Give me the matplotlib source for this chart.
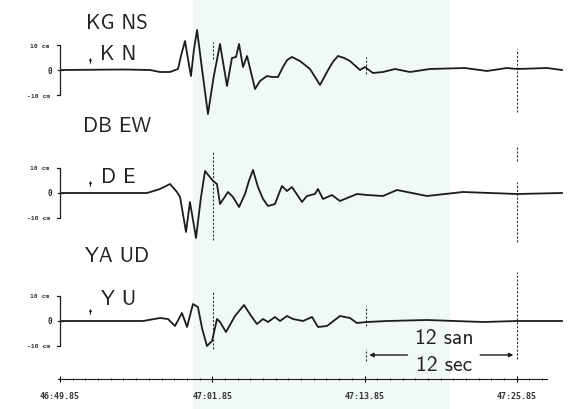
import matplotlib.pyplot as plt
from matplotlib.ticker import FixedLocator

# time in seconds after 46:49.85, amplitude in cm
kg_t = [0.16, 5.0, 7.09, 7.88, 8.67, 9.30, 9.55, 9.85, 10.1, 10.32, 10.55, 10.80, 11.2,
        11.66, 12.1, 12.61, 13.16, 13.55, 13.87, 14.11, 14.42, 14.74, 15.37, 15.76,
        16.31, 16.71, 17.18, 17.57, 17.9, 18.28, 18.91, 19.70, 20.1, 20.49, 21.04, 21.5,
        21.91, 22.4, 22.85, 23.64, 24.03, 24.66, 25.45, 26.40, 27.58, 29.16, 31.91,
        33.65, 35.22, 36.01, 38.38, 39.56]
kg_a = [0, 0.2, 0, -0.8, -0.8, 0.4, 6.0, 11.6, 4.0, -2.4, 8.0, 16.0, 0.0,
        -17.6, -3.0, 10.4, -6.4, 4.8, 5.2, 10.4, 1.2, 5.6, -7.6, -4.4,
        -2.4, -2.8, -2.8, 1.2, 4.0, 5.2, 3.6, 0.4, -2.8, -6.0, -0.8, 3.2,
        5.6, 4.8, 3.6, 0, 1.2, -1.2, -0.8, 0.4, -0.8, 0.4, 0.8,
        -0.4, 0.8, 0.4, 0.8, 0]

db_t = [0.16, 6.86, 7.88, 8.67, 9.20, 9.46, 9.93, 10.24, 10.72, 11.1, 11.43, 12.06,
        12.37, 12.61, 13.24, 13.63, 14.11, 14.58, 14.9, 15.21, 15.60, 16.0, 16.39,
        16.94, 17.49, 17.89, 18.28, 19.07, 19.46, 20.09, 20.33, 20.72, 21.43, 22.06,
        23.40, 24.19, 25.45, 26.56, 28.92, 31.76, 36.01, 39.56]
db_a = [0, 0, 1.6, 3.6, 0.5, -1.6, -15.6, -3.6, -18.0, -2.0, 8.8, 4.8,
        3.6, -4.4, 0.4, -1.6, -5.6, -0.4, 5.0, 9.2, 2.4, -2.4, -5.2,
        -4.4, 2.8, 0.8, 2.4, -3.6, -1.2, -0.4, 1.6, -2.4, -0.8, -3.2,
        -0.4, -0.8, -1.2, 1.2, -1.2, 0.4, -0.4, 0]

ya_t = [0.16, 6.54, 7.88, 8.51, 9.06, 9.61, 10.01, 10.48, 10.87, 11.2, 11.58, 11.98,
        12.37, 12.61, 13.08, 13.79, 14.50, 15.0, 15.52, 16.00, 16.39, 16.94, 17.34,
        17.89, 18.36, 19.15, 19.86, 20.33, 21.04, 22.06, 22.85, 23.40, 24.19, 25.77,
        28.92, 33.33, 36.01, 39.56]
ya_a = [0, 0, 1.2, 0.8, -2.0, 3.2, -2.4, 6.8, 5.6, -3.0, -10.0, -8.0,
        0.8, -0.4, -4.4, 2.0, 6.4, 2.5, -1.2, 0.8, -0.4, 1.6, 0,
        2.0, 0.8, 0, 1.6, -2.4, -2.0, 2.0, 1.2, -0.8, -0.4, 0,
        0.4, -0.4, 0, 0]

stations = ["KG NS", "DB EW", "YA UD"]
codes = ["K N", "D E", "Y U"]
tick_t = [0, 12, 24, 36]
tick_lab = ["46:49.85", "47:01.85", "47:13.85", "47:25.85"]

# layout (cm offsets of each trace's zero line, label heights)
BASE = [135.6, 86.4, 35.2]
NAME_DY = [19.2, 26.8, 26.4]
CODE_DY = [6.8, 6.4, 8.8]
INK = "#1c1c1c"
SANS = "cmss10"

fig = plt.figure(figsize=(5.72, 4.10), dpi=100)
ax = fig.add_axes([0, 0, 1, 1])
ax.set_xlim(-4.73, 40.35)
ax.set_ylim(0, 164)
ax.axvspan(10.5, 30.7, color="#f0f8f8", zorder=0, lw=0)

traces = [(kg_t, kg_a), (db_t, db_a), (ya_t, ya_a)]
for i, (t, a) in enumerate(traces):
    b = BASE[i]
    ax.plot(t, [b + v for v in a], color=INK, lw=1.3, zorder=3,
            solid_joinstyle="round")
    # amplitude bracket
    ax.plot([-0.25, 0.0, 0.0, -0.25], [b + 10, b + 10, b - 10, b - 10],
            color=INK, lw=0.9)
    ax.plot([-0.15, 0.2], [b, b], color=INK, lw=0.9)
    ax.text(-0.8, b + 10, "10 cm", fontsize=4.6, family="DejaVu Sans Mono",
            weight="bold", ha="right", va="center", color="#333")
    ax.text(-0.6, b, "0", fontsize=5.5, family="DejaVu Sans Mono",
            weight="bold", ha="right", va="center", color="#222")
    ax.text(-0.8, b - 10, "-10 cm", fontsize=4.6, family="DejaVu Sans Mono",
            weight="bold", ha="right", va="center", color="#333")
    ax.text(4.5, b + NAME_DY[i], stations[i], fontsize=15, family=SANS,
            ha="center", va="center", color="#222")
    ax.text(4.62, b + CODE_DY[i], codes[i], fontsize=15, family=SANS,
            ha="center", va="center", color="#222")
    # arrival mark
    ax.annotate("", xy=(2.4, b + 6.0), xytext=(2.4, b + 1.6),
                arrowprops=dict(arrowstyle="->", lw=0.8, color=INK,
                                mutation_scale=3))

# dashed time marks
marks = [(12.06, 140.0, 146.8), (12.06, 67.6, 102.8), (12.06, 24.0, 46.8),
         (24.1, 134.0, 140.8), (24.1, 33.2, 41.2), (24.1, 19.2, 24.0),
         (36.0, 118.8, 144.0), (36.0, 99.2, 105.2), (36.0, 66.8, 90.8),
         (36.0, 20.0, 54.8)]
for x, y0, y1 in marks:
    ax.vlines(x, y0, y1, color="#333", lw=0.8, ls=(0, (2, 1.5)), zorder=2)

# 12 s scale bar
ax.annotate("", xy=(24.15, 21.6), xytext=(27.6, 21.6),
            arrowprops=dict(arrowstyle="-|>", lw=1.0, color=INK, mutation_scale=6))
ax.annotate("", xy=(35.95, 21.6), xytext=(32.9, 21.6),
            arrowprops=dict(arrowstyle="-|>", lw=1.0, color=INK, mutation_scale=6))
ax.text(30.3, 28.4, "12 san", fontsize=15.5, family=SANS, ha="center",
        va="center", color="#222")
ax.text(30.3, 17.6, "12 sec", fontsize=15.5, family=SANS, ha="center",
        va="center", color="#222")

# time axis
for s in ("left", "right", "top"):
    ax.spines[s].set_visible(False)
ax.spines["bottom"].set_position(("data", 12.0))
ax.spines["bottom"].set_bounds(-0.16, 38.4)
ax.spines["bottom"].set_color(INK)
ax.set_yticks([])
ax.set_xticks(tick_t)
ax.set_xticklabels(tick_lab, fontsize=6, family="DejaVu Sans Mono",
                   weight="bold", color="#333")
ax.xaxis.set_minor_locator(FixedLocator(range(0, 39)))
ax.tick_params(axis="x", which="major", direction="inout", length=4, pad=7)
ax.tick_params(axis="x", which="minor", direction="inout", length=2)
ax.patch.set_alpha(0)

fig.savefig("out.png", dpi=100)
